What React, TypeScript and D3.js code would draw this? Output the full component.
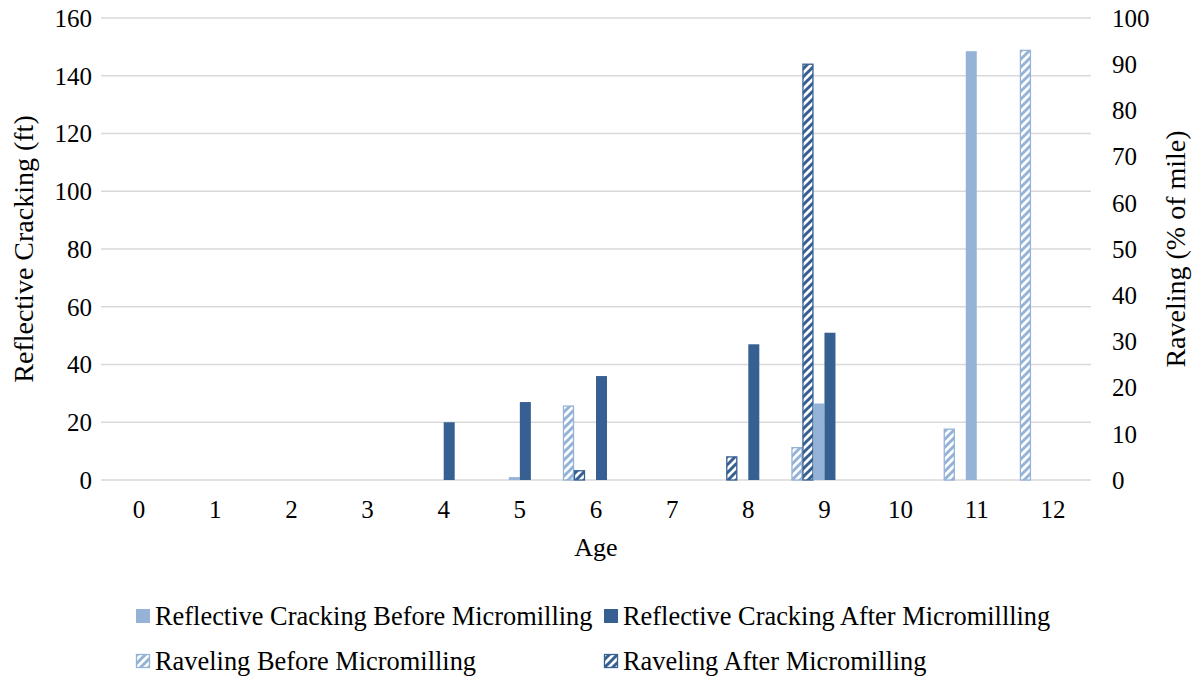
import React from "react";
import * as d3 from "d3";

const ages = ["0", "1", "2", "3", "4", "5", "6", "7", "8", "9", "10", "11", "12"];
// Reflective cracking (ft), left axis
const crackBefore = [0, 0, 0, 0, 0, 1, 0, 0, 0, 26.5, 0, 148.5, 0];
const crackAfter = [0, 0, 0, 0, 20, 27, 36, 0, 47, 51, 0, 0, 0];
// Raveling (% of mile), right axis
const ravelBefore = [0, 0, 0, 0, 0, 0, 16, 0, 0, 7, 0, 11, 93];
const ravelAfter = [0, 0, 0, 0, 0, 0, 2, 0, 5, 90, 0, 0, 0];

const leftTicks = [0, 20, 40, 60, 80, 100, 120, 140, 160];
const rightTicks = [0, 10, 20, 30, 40, 50, 60, 70, 80, 90, 100];

const LIGHT = "#95B3D7";
const DARK = "#376092";
const FONT = "Liberation Serif";

const W = 1196;
const H = 677;
const plot = { left: 101, right: 1091, top: 18, bottom: 480 };

export default function App() {
  const x = d3.scaleBand<string>().domain(ages).range([plot.left, plot.right]).padding(0);
  const yL = d3.scaleLinear().domain([0, 160]).range([plot.bottom, plot.top]);
  const yR = d3.scaleLinear().domain([0, 100]).range([plot.bottom, plot.top]);
  const bw = x.bandwidth() * 0.1445;
  const center = (a: string) => (x(a) as number) + x.bandwidth() / 2;
  const midY = (plot.top + plot.bottom) / 2;

  // slot offsets (in bar widths) from the category centre
  const series = [
    { name: "Raveling Before Micromilling", vals: ravelBefore, y: yR, slot: -3, color: LIGHT, hatch: true },
    { name: "Raveling After Micromilling", vals: ravelAfter, y: yR, slot: -2, color: DARK, hatch: true },
    { name: "Reflective Cracking Before Micromilling", vals: crackBefore, y: yL, slot: -1, color: LIGHT, hatch: false },
    { name: "Reflective Cracking After Micromillling", vals: crackAfter, y: yL, slot: 0, color: DARK, hatch: false },
  ];

  const fill = (s: { color: string; hatch: boolean }) =>
    s.hatch ? `url(#hatch-${s.color === LIGHT ? "light" : "dark"})` : s.color;

  const legendItems = [
    { s: series[2], x: 136, y: 616 },
    { s: series[3], x: 604, y: 616 },
    { s: series[0], x: 136, y: 661 },
    { s: series[1], x: 604, y: 661 },
  ];

  const txt = { fontFamily: FONT, fontSize: 25, fill: "#000" } as const;
  const legendTxt = { ...txt, fontSize: 26.4 };
  const titleTxt = { ...txt, fontSize: 28 };

  return (
    <svg width={W} height={H} style={{ position: "absolute", left: 0, top: 0, background: "#fff", fontFamily: FONT }}>
      <defs>
        {[
          ["light", LIGHT],
          ["dark", DARK],
        ].map(([id, c]) => (
          <pattern key={id} id={`hatch-${id}`} width={8} height={8} patternUnits="userSpaceOnUse">
            <rect width={8} height={8} fill="#fff" />
            <path d="M0,8 L8,0" stroke={c} strokeWidth={3} />
            <path d="M-2,2 L2,-2 M6,10 L10,6" stroke={c} strokeWidth={3} />
          </pattern>
        ))}
      </defs>

      {/* gridlines */}
      {leftTicks.map((t) => (
        <line key={t} x1={plot.left} x2={plot.right} y1={yL(t)} y2={yL(t)} stroke="#d9d9d9" strokeWidth={1.3} />
      ))}

      {/* bars */}
      {series.map((s) =>
        ages.map((a, i) => {
          const v = s.vals[i];
          if (!v) return null;
          const x0 = center(a) + s.slot * bw;
          const y0 = s.y(v);
          return (
            <rect
              key={s.name + a}
              x={x0 + (s.hatch ? 0.5 : 0)}
              y={y0}
              width={bw - (s.hatch ? 1 : 0)}
              height={plot.bottom - y0}
              fill={fill(s)}
              stroke={s.hatch ? s.color : "none"}
              strokeWidth={s.hatch ? 1.3 : 0}
            />
          );
        })
      )}

      {/* left axis labels */}
      {leftTicks.map((t) => (
        <text key={t} x={92} y={yL(t)} dy="0.35em" textAnchor="end" style={txt}>
          {t}
        </text>
      ))}
      {/* right axis labels */}
      {rightTicks.map((t) => (
        <text key={t} x={1112} y={yR(t)} dy="0.35em" textAnchor="start" style={txt}>
          {t}
        </text>
      ))}
      {/* category labels */}
      {ages.map((a) => (
        <text key={a} x={center(a)} y={509} dy="0.35em" textAnchor="middle" style={txt}>
          {a}
        </text>
      ))}

      {/* axis titles */}
      <text x={596} y={547} dy="0.35em" textAnchor="middle" style={{ ...txt, fontSize: 26 }}>
        Age
      </text>
      <text transform={`translate(23,${midY}) rotate(-90)`} dy="0.35em" textAnchor="middle" style={titleTxt}>
        Reflective Cracking (ft)
      </text>
      <text transform={`translate(1175,${midY}) rotate(-90)`} dy="0.35em" textAnchor="middle" style={titleTxt}>
        Raveling (% of mile)
      </text>

      {/* legend */}
      {legendItems.map(({ s, x: lx, y: ly }) => (
        <g key={s.name}>
          <rect
            x={lx + (s.hatch ? 0.5 : 0)}
            y={ly - 7 + (s.hatch ? 0.5 : 0)}
            width={14 - (s.hatch ? 1 : 0)}
            height={14 - (s.hatch ? 1 : 0)}
            fill={fill(s)}
            stroke={s.hatch ? s.color : "none"}
            strokeWidth={s.hatch ? 1.3 : 0}
          />
          <text x={lx + 19} y={ly} dy="0.35em" style={legendTxt}>
            {s.name}
          </text>
        </g>
      ))}
    </svg>
  );
}
